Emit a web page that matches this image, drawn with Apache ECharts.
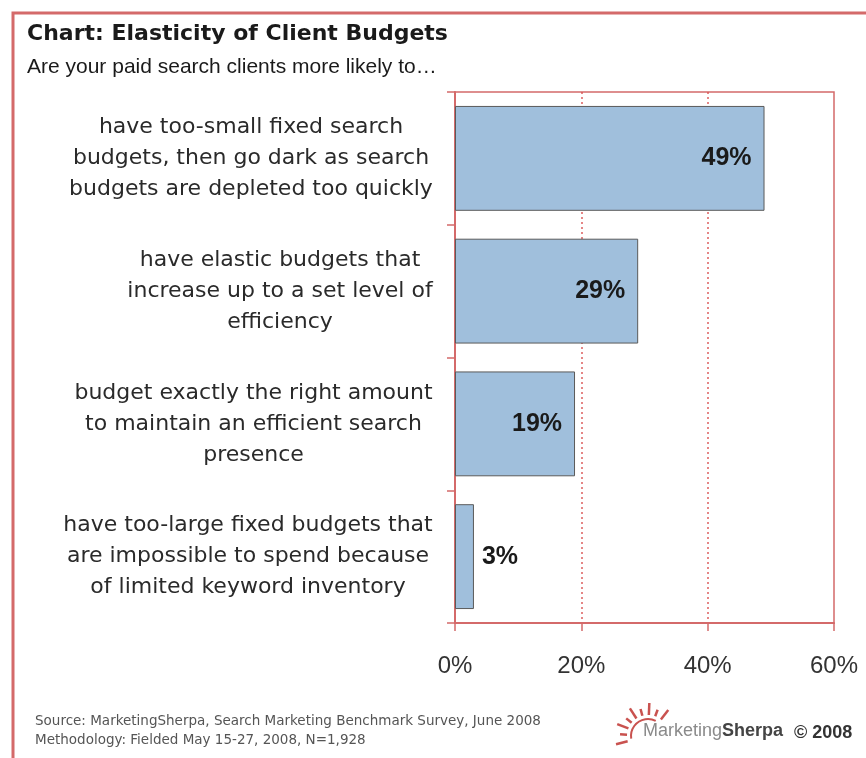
<!DOCTYPE html>
<html>
<head>
<meta charset="utf-8">
<script src="https://cdn.jsdelivr.net/npm/echarts@6/dist/echarts.min.js"></script>
<style>
html,body{margin:0;padding:0;background:#fff;}
#chart{width:866px;height:758px;}
</style>
</head>
<body>
<div id="chart"></div>
<script>
const categories = [
  ['have too-small fixed search', 'budgets, then go dark as search', 'budgets are depleted too quickly'],
  ['have elastic budgets that', 'increase up to a set level of', 'efficiency'],
  ['budget exactly the right amount', 'to maintain an efficient search', 'presence'],
  ['have too-large fixed budgets that', 'are impossible to spend because', 'of limited keyword inventory']
];
const values = [49, 29, 19, 3];
const xTicks = [0, 20, 40, 60];
const titleText = 'Chart: Elasticity of Client Budgets';
const subtitleText = 'Are your paid search clients more likely to\u2026';
const sourceLines = ['Source: MarketingSherpa, Search Marketing Benchmark Survey, June 2008', 'Methodology: Fielded May 15-27, 2008, N=1,928'];

const FONT = '"Liberation Sans", Arial, Helvetica, sans-serif';
const WIDE = '"DejaVu Sans", "Liberation Sans", sans-serif';
const labelSize = 22;
const ctx = document.createElement('canvas').getContext('2d');
ctx.font = labelSize + 'px ' + WIDE;
const rich = {};
categories.forEach((lines, i) => {
  const w = Math.max(...lines.map(l => ctx.measureText(l).width));
  rich['r' + i] = { width: Math.ceil(w), align: 'center', fontSize: labelSize, fontFamily: WIDE, color: '#2a2a2a', lineHeight: 31 };
});

const red = '#d46a6a';
const chart = echarts.init(document.getElementById('chart'), null, { renderer: 'canvas' });

// sun rays for logo
const sunCx = 648, sunCy = 736;
const rays = [];
const nRays = 9;
for (let k = 0; k < nRays; k++) {
  const ang = Math.PI * (0.92 + k * 0.0988);
  const r1 = 21, r2 = (k % 2 === 0) ? 33 : 28;
  rays.push({
    type: 'line',
    shape: { x1: sunCx + r1 * Math.cos(ang), y1: sunCy + r1 * Math.sin(ang), x2: sunCx + r2 * Math.cos(ang), y2: sunCy + r2 * Math.sin(ang) },
    style: { stroke: '#c9524f', lineWidth: 2.5 }
  });
}
rays.push({ type: 'arc', shape: { cx: sunCx, cy: sunCy, r: 17, startAngle: Math.PI * 0.95, endAngle: Math.PI * 1.65 }, style: { stroke: '#c9524f', lineWidth: 2, fill: null } });

chart.setOption({
  animation: false,
  backgroundColor: '#fff',
  grid: { left: 455, right: 32, top: 92, bottom: 135, show: true, borderColor: red, borderWidth: 1.5 },
  xAxis: {
    type: 'value', min: 0, max: 60, interval: 20,
    axisLine: { show: true, lineStyle: { color: red, width: 2 } },
    axisTick: { show: true, length: 8, lineStyle: { color: red, width: 1.5 } },
    axisLabel: { margin: 31, fontSize: 24, fontFamily: FONT, color: '#333', formatter: v => xTicks.includes(v) ? v + '%' : '' },
    splitLine: { show: true, showMinLine: false, showMaxLine: false, lineStyle: { color: ['#d94c4c'], type: [2, 3], width: 1.5, opacity: 0.9 } }
  },
  yAxis: {
    type: 'category', inverse: true,
    data: categories.map(l => l.join('\n')),
    axisLine: { show: true, lineStyle: { color: red, width: 2 } },
    axisTick: { show: true, length: 8, lineStyle: { color: red, width: 1.5 } },
    axisLabel: {
      margin: 22, align: 'right', rich: rich,
      formatter: (val, idx) => categories[idx].map(l => '{r' + idx + '|' + l + '}').join('\n')
    }
  },
  series: [{
    type: 'bar',
    barCategoryGap: '21%',
    itemStyle: { color: '#a0bfdc', borderColor: '#5a5a5a', borderWidth: 1 },
    data: values.map(v => ({
      value: v,
      label: {
        show: true,
        position: v < 10 ? 'right' : 'insideRight',
        distance: v < 10 ? 8 : 13,
        formatter: '{c}%',
        fontSize: 25, fontWeight: 'bold', fontFamily: FONT, color: '#1a1a1a'
      }
    }))
  }],
  graphic: [
    { type: 'polyline', shape: { points: [[13, 758], [13, 13], [866, 13]] }, style: { stroke: red, lineWidth: 3, fill: null } },
    { type: 'text', x: 27, y: 23, style: { text: titleText, font: 'bold 22px ' + WIDE, fill: '#1a1a1a' } },
    { type: 'text', x: 27, y: 57, style: { text: subtitleText, font: '21px ' + FONT, fill: '#1a1a1a' } },
    { type: 'text', x: 35, y: 714, style: { text: sourceLines[0], font: '13.5px ' + WIDE, fill: '#555' } },
    { type: 'text', x: 35, y: 733, style: { text: sourceLines[1], font: '13.5px ' + WIDE, fill: '#555' } },
    ...rays,
    { type: 'text', x: 643, y: 722, style: {
        text: '{a|Marketing}{b|Sherpa}',
        rich: {
          a: { fontSize: 18, fontFamily: FONT, fill: '#8a8a8a', color: '#8a8a8a' },
          b: { fontSize: 18, fontFamily: FONT, fontWeight: 'bold', fill: '#444', color: '#444' }
        }
    } },
    { type: 'text', x: 794, y: 724, style: { text: '\u00a9 2008', font: 'bold 18px ' + FONT, fill: '#333' } }
  ]
});
</script>
</body>
</html>
